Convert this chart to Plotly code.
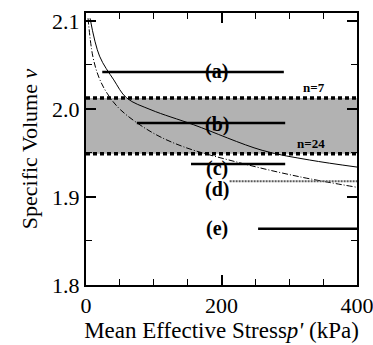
import plotly.graph_objects as go

# Horizontal state lines (a)-(e)
line_labels = ["(a)", "(b)", "(c)", "(d)", "(e)"]
line_v = [2.042, 1.984, 1.9375, 1.918, 1.864]
line_x0 = [24, 75, 155, 212, 254]
line_x1 = [292, 294, 294, 400, 400]
label_v = [2.042, 1.982, 1.932, 1.908, 1.864]

# Shaded band limits
band_top = 2.0125
band_bot = 1.949
band_labels = ["n=7", "n=24"]
band_label_v = [2.0125, 1.961]

# Curves
curve1_p = [6, 20, 41, 60, 96, 159, 260, 330, 400]
curve1_v = [2.103, 2.06, 2.033, 2.0125, 1.999, 1.982, 1.953, 1.942, 1.934]
curve2_p = [3, 10, 19, 31, 51, 96, 144, 226, 315, 400]
curve2_v = [2.103, 2.06, 2.036, 2.018, 1.999, 1.974, 1.957, 1.939, 1.923, 1.911]

fig = go.Figure()

# band
fig.add_trace(go.Scatter(x=[0, 400, 400, 0, 0], y=[band_bot, band_bot, band_top, band_top, band_bot],
                         fill="toself", fillcolor="rgb(178,178,178)", line=dict(width=0),
                         mode="lines", hoverinfo="skip", showlegend=False))
for yv in [band_top, band_bot]:
    fig.add_trace(go.Scatter(x=[0, 400], y=[yv, yv], mode="lines",
                             line=dict(color="black", width=3.5, dash="4px,3px"),
                             showlegend=False))

fig.add_trace(go.Scatter(x=curve1_p, y=curve1_v, mode="lines", line=dict(color="black", width=1, shape="spline"),
                         showlegend=False))
fig.add_trace(go.Scatter(x=curve2_p, y=curve2_v, mode="lines",
                         line=dict(color="black", width=1, dash="6px,2px,1px,2px", shape="spline"),
                         showlegend=False))

for i, lab in enumerate(line_labels):
    if lab == "(d)":
        fig.add_trace(go.Scatter(x=[line_x0[i], line_x1[i]], y=[line_v[i], line_v[i]], mode="lines",
                                 line=dict(color="rgb(90,90,90)", width=2, dash="2px,1px"), showlegend=False))
    else:
        fig.add_trace(go.Scatter(x=[line_x0[i], line_x1[i]], y=[line_v[i], line_v[i]], mode="lines",
                                 line=dict(color="black", width=2.5), showlegend=False))

for lab, yv in zip(line_labels, label_v):
    fig.add_annotation(x=193, y=yv, text="<b>" + lab + "</b>", showarrow=False, xanchor="center", yanchor="middle",
                       font=dict(family="Liberation Serif", size=20, color="black"))

fig.add_annotation(x=355, y=band_label_v[0], text="<b>" + band_labels[0] + "</b>", showarrow=False,
                   xanchor="right", yanchor="bottom",
                   font=dict(family="Liberation Serif", size=13, color="black"), yshift=1)
fig.add_annotation(x=355, y=band_label_v[1], text="<b>" + band_labels[1] + "</b>", showarrow=False,
                   xanchor="right", yanchor="middle",
                   font=dict(family="Liberation Serif", size=13, color="black"))

font = dict(family="Liberation Serif", size=22, color="black")
fig.update_layout(
    width=373, height=345,
    margin=dict(l=86, r=16, t=13, b=60),
    plot_bgcolor="white", paper_bgcolor="white",
    xaxis=dict(range=[0, 400], tickvals=[0, 200, 400], ticktext=["0", "200", "400"],
               ticks="inside", ticklen=10, tickwidth=1.5, tickcolor="black", automargin=False,
               ticklabeloverflow="allow",
               minor=dict(dtick=50, ticks="inside", ticklen=6, tickwidth=1.2, tickcolor="black", showgrid=False),
               showline=True, linecolor="black", linewidth=2, mirror="ticks", showgrid=False, zeroline=False,
               tickfont=font,
               title=dict(text="Mean Effective Stress<i>p'</i> (kPa)",
                          font=dict(family="Liberation Serif", size=23, color="black"), standoff=0)),
    yaxis=dict(range=[1.8, 2.109], tickvals=[1.8, 1.9, 2.0, 2.1], ticktext=["1.8", "1.9", "2.0", "2.1"],
               ticks="inside", ticklen=10, tickwidth=1.5, tickcolor="black", automargin=False,
               minor=dict(dtick=0.05, ticks="inside", ticklen=6, tickwidth=1.2, tickcolor="black", showgrid=False),
               showline=True, linecolor="black", linewidth=2, mirror="ticks", showgrid=False, zeroline=False,
               tickfont=font,
               title=dict(text="Specific Volume <i>v</i>",
                          font=dict(family="Liberation Serif", size=22, color="black"), standoff=8)),
)

fig.write_html("out.html")
